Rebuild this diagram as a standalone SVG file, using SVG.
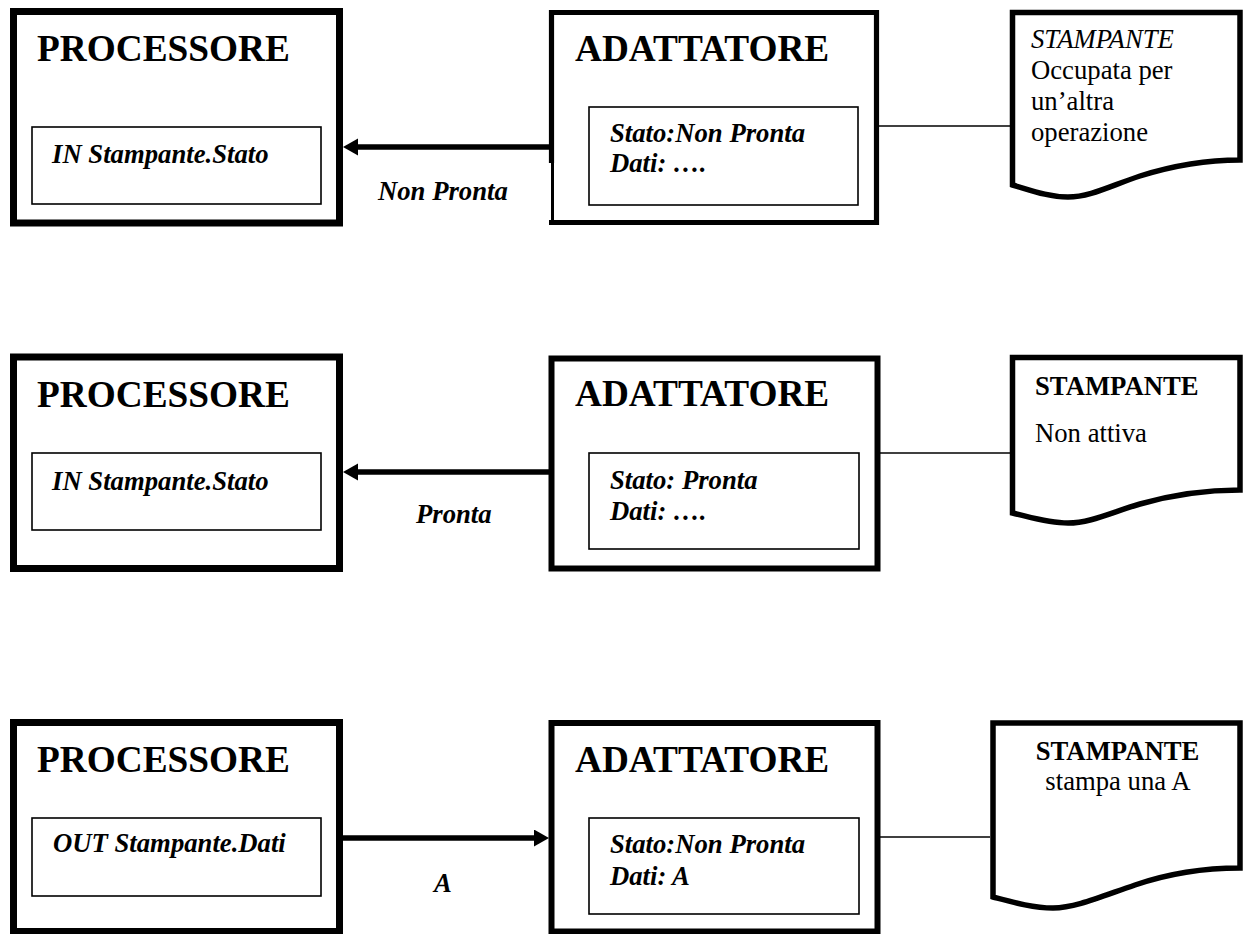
<svg xmlns="http://www.w3.org/2000/svg" width="1243" height="934" viewBox="0 0 1243 934">
<style>
.bg{fill:#fff}
.proc{fill:none;stroke:#000;stroke-width:7}
.adat{fill:none;stroke:#000;stroke-width:6}
.adat1{fill:none;stroke:#000;stroke-width:5.2}
.inner{fill:none;stroke:#000;stroke-width:1.6}
.doc{fill:none;stroke:#000;stroke-width:5.5;stroke-linejoin:miter}
.thin{fill:none;stroke:#000;stroke-width:1.6}
.arr{fill:none;stroke:#000;stroke-width:5.5}
text{font-family:"Liberation Serif","Times New Roman",serif;fill:#000}
.title{font-size:37.3px;font-weight:bold}
.bi{font-size:26.7px;font-weight:bold;font-style:italic}
.r{font-size:26.7px}
.i{font-size:26.7px;font-style:italic}
.b{font-size:26.7px;font-weight:bold}
</style>
<defs>
<marker id="ah" markerUnits="userSpaceOnUse" markerWidth="16" markerHeight="18" refX="0" refY="8.5" orient="auto">
<path d="M0,0 L15,8.5 L0,17 Z" fill="#000"/>
</marker>
</defs>
<rect class="bg" x="0" y="0" width="1243" height="934"/>

<!-- Row 1 -->
<g id="processore1">
<rect class="proc" x="13.5" y="11.5" width="326" height="211.5"/>
<text class="title" x="37" y="61">PROCESSORE</text>
<rect class="inner" x="32" y="127" width="289" height="77"/>
<text class="bi" x="52" y="163">IN Stampante.Stato</text>
</g>
<g id="adattatore1">
<path class="adat1" d="M551.5,163 V12.5 H876.5 V222.5 H549"/>
<line x1="552.5" y1="163" x2="552.5" y2="225" stroke="#000" stroke-width="3"/>
<text class="title" x="575" y="61">ADATTATORE</text>
<rect class="inner" x="589" y="107" width="269" height="98"/>
<text class="bi" x="610" y="142">Stato:Non Pronta</text>
<text class="bi" x="610" y="172">Dati: ….</text>
</g>
<g id="stampante1">
<path class="doc" d="M1012.5,12.5 H1240 V160 C1205,160 1175,165 1140,176 C1110,186 1090,197 1068,197 C1048,197 1030,190 1012.5,185 Z"/>
<text class="i" x="1031" y="48">STAMPANTE</text>
<text class="r" x="1031" y="79">Occupata per</text>
<text class="r" x="1031" y="110">un’altra</text>
<text class="r" x="1031" y="141">operazione</text>
</g>

<!-- Row 2 -->
<g id="processore2">
<rect class="proc" x="13.5" y="357" width="326" height="211.5"/>
<text class="title" x="37" y="407">PROCESSORE</text>
<rect class="inner" x="32" y="453" width="289" height="77"/>
<text class="bi" x="52" y="490">IN Stampante.Stato</text>
</g>
<g id="adattatore2">
<rect class="adat" x="551.5" y="358.5" width="326" height="210"/>
<text class="title" x="575" y="406">ADATTATORE</text>
<rect class="inner" x="589" y="453" width="270" height="96"/>
<text class="bi" x="610" y="489">Stato: Pronta</text>
<text class="bi" x="610" y="520">Dati: ….</text>
</g>
<g id="stampante2">
<path class="doc" d="M1012.5,357.5 H1240 V490 C1205,490 1175,494 1140,504 C1110,513 1090,523 1068,523 C1048,523 1030,517 1012.5,513 Z"/>
<text class="b" x="1035" y="395">STAMPANTE</text>
<text class="r" x="1035" y="442">Non attiva</text>
</g>

<!-- Row 3 -->
<g id="processore3">
<rect class="proc" x="13.5" y="722.5" width="326" height="209"/>
<text class="title" x="37" y="772">PROCESSORE</text>
<rect class="inner" x="32" y="818" width="289" height="78"/>
<text class="bi" x="53" y="852">OUT Stampante.Dati</text>
</g>
<g id="adattatore3">
<rect class="adat" x="551.5" y="723" width="326" height="208.5"/>
<text class="title" x="575" y="772">ADATTATORE</text>
<rect class="inner" x="589" y="818" width="270" height="96"/>
<text class="bi" x="610" y="853">Stato:Non Pronta</text>
<text class="bi" x="610" y="885">Dati: A</text>
</g>
<g id="stampante3">
<path class="doc" d="M993,723 H1240 V868 C1205,868 1170,873 1135,885 C1100,897 1075,908 1053,908 C1033,908 1012,902 993,897 Z"/>
<text class="b" x="1117.5" y="760" text-anchor="middle">STAMPANTE</text>
<text class="r" x="1118" y="790" text-anchor="middle">stampa una A</text>
</g>

<g id="connectors">
<path class="arr" d="M549,147 H358" marker-end="url(#ah)"/>
<text class="bi" x="378" y="200">Non Pronta</text>
<line class="thin" x1="879" y1="126" x2="1010" y2="126"/>
<path class="arr" d="M549,472 H358" marker-end="url(#ah)"/>
<text class="bi" x="416" y="523">Pronta</text>
<line class="thin" x1="880" y1="453" x2="1010" y2="453"/>
<path class="arr" d="M343,838 H534" marker-end="url(#ah)"/>
<text class="bi" x="434" y="892">A</text>
<line class="thin" x1="880" y1="837" x2="990" y2="837"/>
</g>
</svg>
